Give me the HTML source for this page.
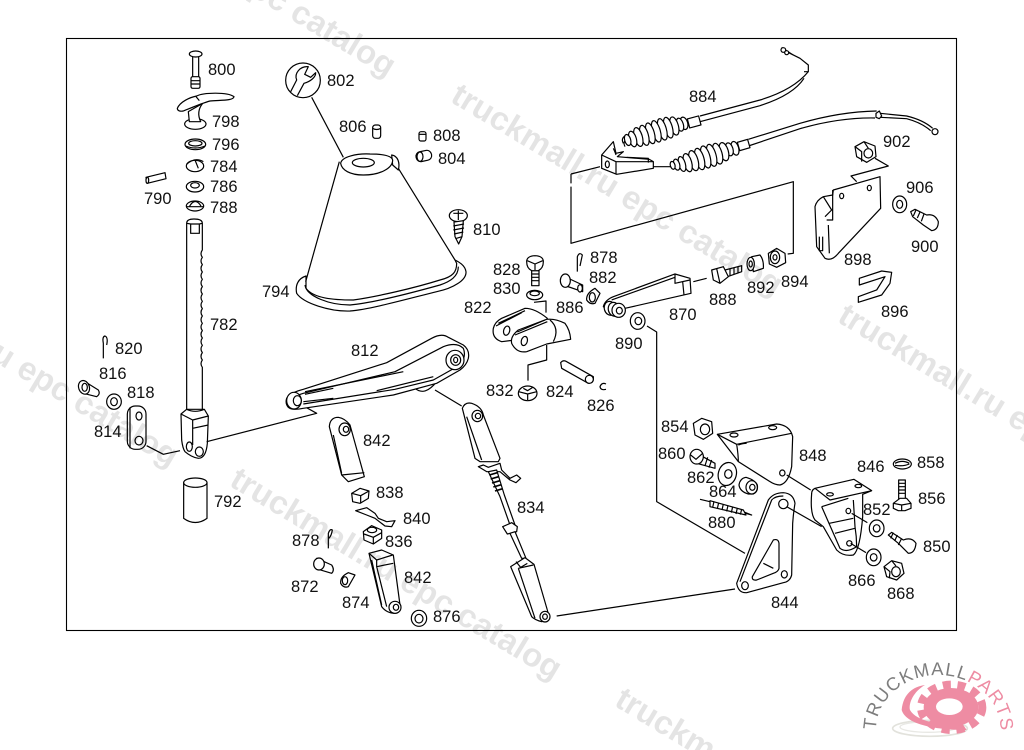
<!DOCTYPE html>
<html><head><meta charset="utf-8"><style>
html,body{margin:0;padding:0;background:#fff;width:1024px;height:750px;overflow:hidden}
#w{position:relative;width:1024px;height:750px;overflow:hidden}
svg{display:block}
.d{fill:#fff;stroke:#000;stroke-width:3.6;stroke-linejoin:round}
.d .n,.n{fill:none}
.t text{font-family:"Liberation Sans",sans-serif;font-size:16.5px;fill:#111}
.w text{font-family:"Liberation Sans",sans-serif;font-weight:bold;font-size:33px;fill:#000;opacity:.1}
</style></head><body><div id="w">
<svg width="1024" height="750" viewBox="0 0 1024 750" xmlns="http://www.w3.org/2000/svg">
<rect x="66.5" y="38.5" width="890" height="592" fill="#fff" stroke="#000" stroke-width="1.1"/>

<!-- zoom1 -->
<g class="d" transform="translate(70,40) scale(.33333)">
<ellipse cx="377" cy="42" rx="19" ry="9"/><path d="M368,50V110M386,50V110"/><rect x="363" y="110" width="27" height="35" rx="5"/><path class="n" d="M363,122H390M363,132H390"/>
<ellipse cx="376" cy="252" rx="32" ry="16"/><path d="M355,215L358,245H392Q378,215 398,190Z"/>
<path d="M322,205C330,185 360,172 380,168C400,158 470,155 492,170C490,183 450,180 420,183C395,190 360,205 340,213C330,215 322,212 322,205Z"/><path class="n" d="M378,170L388,182"/>
<ellipse cx="376" cy="313" rx="31" ry="16"/><ellipse cx="376" cy="310" rx="20" ry="8"/><path class="n" d="M347,318Q376,330 405,318"/>
<ellipse cx="375" cy="378" rx="26" ry="17"/><path class="n" d="M350,373Q375,350 400,365M375,360L385,385"/>
<ellipse cx="375" cy="440" rx="26" ry="16"/><ellipse cx="375" cy="436" rx="13" ry="8"/>
<ellipse cx="375" cy="498" rx="26" ry="15"/><path class="n" d="M358,500Q375,470 393,498M350,500H400"/>
<path d="M228,412L285,398L288,416L232,430Z"/><ellipse cx="232" cy="421" rx="4" ry="9"/>
<path d="M350,1110V550Q350,537 372,537Q397,537 397,550V630q-8,11 0,22q-8,11 0,22q-8,11 0,22q-8,11 0,22q-8,11 0,22q-8,11 0,22q-8,11 0,22q-8,11 0,22q-8,11 0,22q-8,11 0,22q-8,11 0,22q-8,11 0,22q-8,11 0,22q-8,11 0,22q-8,11 0,22q-8,11 0,22V1110Z"/>
<path class="n" d="M350,550L362,552H388L397,550M362,552V580H388V552"/>
<!-- boot -->
<path d="M707,730L808,365L985,385L1155,660Z" stroke="none"/>
<path d="M708,708C685,715 675,735 680,760C700,790 780,815 840,813C900,808 1000,780 1100,755C1150,745 1190,720 1188,695C1185,675 1165,665 1155,660L1160,670C1160,695 1150,710 1110,720C1030,745 920,770 850,780C790,780 730,775 708,745Z"/>
<path class="n" d="M705,735C710,770 780,795 840,795C900,790 1020,760 1110,735C1140,725 1165,710 1165,680"/>
<path class="n" d="M707,725L808,365M985,385L1155,660"/>
<path d="M965,345C985,348 990,370 985,390L968,375Z"/>
<path d="M812,370C815,350 860,340 900,342C940,342 965,348 968,360C968,385 930,405 880,405C840,405 815,390 812,370Z"/><ellipse cx="880" cy="368" rx="33" ry="13"/>
<circle cx="699" cy="121" r="52"/>
<path d="M682,167L702,130C720,125 738,112 737,98L722,112L704,103L715,80C690,78 672,100 680,120L662,155" fill="none"/>
<path class="n" d="M725,172L820,352"/>
<rect x="908" y="255" width="24" height="40" rx="8"/><path class="n" d="M908,265Q920,272 932,265"/>
<rect x="1047" y="275" width="21" height="28" rx="6"/><path class="n" d="M1047,283H1068"/>
<rect x="1038" y="333" width="47" height="30" rx="14" transform="rotate(-12 1061 348)"/><ellipse cx="1050" cy="350" rx="9" ry="14"/>
<ellipse cx="1165" cy="527" rx="27" ry="18"/><path class="n" d="M1150,520H1180M1165,512V540"/><path d="M1152,546L1180,542L1176,590L1166,612L1155,590Z"/><path class="n" d="M1150,558L1182,552M1150,570L1182,564M1152,582L1180,576M1156,596L1176,590"/>
</g>

<!-- zoom3 -->
<g class="d" transform="translate(70,330) scale(.33333)">
<path class="n" d="M100,85V40Q96,20 105,18Q115,22 110,45"/>
<path d="M40,152L85,180Q92,192 80,200L40,190Z"/><ellipse cx="42" cy="172" rx="16" ry="21" transform="rotate(-20 42 172)"/><ellipse cx="44" cy="172" rx="8" ry="12"/>
<ellipse cx="132" cy="215" rx="22" ry="23"/><ellipse cx="132" cy="215" rx="10" ry="12"/>
<rect x="172" y="228" width="56" height="130" rx="24"/><path class="n" d="M180,232V355"/><ellipse cx="207" cy="258" rx="9" ry="12"/><ellipse cx="207" cy="332" rx="12" ry="13"/>
<path class="n" d="M230,347L280,373L330,362"/>
<path d="M333,252L350,238H403L415,258L412,340Q408,385 385,385Q365,382 345,365Q338,355 335,330Z"/>
<path class="n" d="M333,252L368,270L415,258M368,270V345M368,295L415,285M350,238Q375,250 403,238"/><ellipse cx="358" cy="350" rx="9" ry="14"/><ellipse cx="388" cy="365" rx="12" ry="14"/>
<path class="n" d="M410,335L740,250L690,222"/>
<path d="M341,458V565Q376,590 411,565V458Z"/><ellipse cx="376" cy="458" rx="35" ry="14"/>
<path d="M1035,175Q1065,200 1100,155Z"/>
<path d="M650,205C660,190 680,183 700,178L950,98L1085,25Q1115,8 1135,22L1180,45Q1200,60 1195,85Q1190,105 1170,120L1100,160L970,195L700,235Q665,242 655,232Q645,220 650,205Z"/>
<path class="n" d="M670,208Q680,195 700,190L975,125L1120,50Q1160,35 1180,55Q1190,80 1170,105L1090,150L975,178L700,222"/>
<path class="n" d="M705,185L1000,125M705,193L790,175M700,215L790,205M920,182L1090,140"/>
<ellipse cx="672" cy="212" rx="22" ry="25"/><ellipse cx="682" cy="212" rx="12" ry="15"/>
<ellipse cx="1155" cy="90" rx="27" ry="29"/><ellipse cx="1157" cy="90" rx="15" ry="16"/><ellipse cx="1157" cy="90" rx="6" ry="8"/>
<path class="n" d="M1095,180L1175,228"/>
<path d="M778,290Q780,262 805,262Q825,265 840,285L883,440L835,455L815,435Z"/><path class="n" d="M790,315L815,430M815,435L883,428"/><ellipse cx="824" cy="298" rx="17" ry="19"/><ellipse cx="828" cy="298" rx="8" ry="9"/>
<path d="M845,490L870,475L897,483L895,505L870,520L848,515Z"/><path class="n" d="M845,490L872,497L897,483M872,497V520"/>
<path d="M857,542L890,533L915,550L925,565L950,575L975,572L965,590L945,588L915,565L890,555Z"/>
<path d="M880,605L905,587L935,600L935,625L910,642L882,630Z"/><ellipse cx="906" cy="600" rx="14" ry="8"/><path class="n" d="M882,612L910,622L935,608M910,622V642"/>
<path class="n" d="M775,655V610Q780,595 787,600Q785,615 777,625"/>
<path d="M897,670L935,660L970,675L990,825Q995,845 975,850Q950,850 935,830Z"/><path class="n" d="M897,670L920,690L968,675M920,690V710L970,700M905,690L935,825M920,710L950,830"/><ellipse cx="975" cy="832" rx="18" ry="18"/><ellipse cx="978" cy="832" rx="8" ry="9"/>
<path d="M740,685L785,705Q795,720 785,730L745,718Z"/><ellipse cx="747" cy="702" rx="16" ry="18"/>
<path d="M855,735L835,728Q810,740 812,760Q820,775 835,770Z"/><ellipse cx="825" cy="752" rx="8" ry="12"/>
<ellipse cx="1047" cy="865" rx="23" ry="24"/><ellipse cx="1047" cy="866" rx="12" ry="13"/>
<path d="M1177,235Q1185,215 1205,220Q1235,230 1240,255L1290,385L1285,395H1230L1215,385Z"/><path class="n" d="M1190,260L1235,390"/><ellipse cx="1222" cy="258" rx="16" ry="17"/><ellipse cx="1224" cy="258" rx="8" ry="8"/>
<path d="M1225,410L1240,405L1255,412L1290,400L1295,420L1320,445L1340,435L1352,445L1338,458L1320,450L1290,425L1250,425Z"/>
<path d="M1255,425L1290,500L1320,585H1335L1303,495L1280,420Z"/>
<path class="n" d="M1258,435L1282,428M1262,447L1286,440M1266,459L1290,452M1270,471L1294,464M1275,483L1298,476" stroke-width="5"/>
<path d="M1298,590L1325,578L1342,590L1340,605L1312,612Z"/>
<path d="M1320,610L1355,685H1368L1335,605Z"/>
<path d="M1322,710L1365,683L1392,703L1432,840Q1440,865 1415,875Q1395,870 1385,860Z"/><path class="n" d="M1345,715L1390,705M1345,715L1395,865M1338,695L1352,712L1372,700"/><ellipse cx="1425" cy="860" rx="15" ry="16"/><ellipse cx="1425" cy="860" rx="7" ry="8"/>
<path class="n" d="M1460,858L1995,777"/>
</g>

<!-- zoom6 -->
<g class="d" transform="translate(460,240) scale(.33333)">
<path d="M215,92H237V137H215Z"/><path class="n" d="M215,102H237M215,112H237M215,122H237"/>
<path d="M200,65Q200,48 225,47Q250,48 250,65Q250,85 235,92H215Q200,85 200,65Z"/><path class="n" d="M202,62L225,72L248,62M225,72V90"/>
<ellipse cx="224" cy="165" rx="24" ry="14"/><ellipse cx="224" cy="160" rx="14" ry="7"/>
<path class="n" d="M222,187L258,183V218"/>
<path d="M100,265Q105,245 125,235L195,205Q225,205 262,235L240,290L125,305Q95,295 100,265Z"/>
<path class="n" d="M108,258L185,218M115,250L195,212"/><ellipse cx="140" cy="272" rx="9" ry="14" transform="rotate(15 140 272)"/>
<path d="M155,310Q150,290 175,270L260,238Q285,235 315,250Q330,270 332,298L260,312L200,335Q170,340 155,310Z"/>
<path class="n" d="M165,285L262,245M172,276L255,240M270,240Q300,265 280,305"/><ellipse cx="193" cy="303" rx="9" ry="14" transform="rotate(15 193 303)"/>
<path class="n" d="M260,315V360L204,375V422"/>
<ellipse cx="203" cy="460" rx="28" ry="22"/><path class="n" d="M176,455L203,462L230,455M203,462V480M190,445L203,452L218,442"/>
<path d="M302,368Q310,358 320,365L400,410Q402,430 385,430L305,385Z"/><ellipse cx="388" cy="418" rx="12" ry="12"/>
<path class="n" d="M438,432Q425,426 420,440Q422,452 438,448"/>
<path d="M310,108L368,135V155L310,135Z"/><ellipse cx="316" cy="122" rx="15" ry="20"/><ellipse cx="360" cy="145" rx="7" ry="11"/>
<path class="n" d="M352,95V50Q358,35 367,45L360,78"/>
<path d="M420,160L405,145Q378,160 380,180Q390,195 405,190Z"/><ellipse cx="397" cy="172" rx="9" ry="14"/>
<ellipse cx="533" cy="243" rx="22" ry="25"/><ellipse cx="535" cy="243" rx="10" ry="11"/>
</g>

<!-- zoom2 -->
<g class="d" transform="translate(560,40) scale(.33333)">
<!-- cables -->
<path class="n" d="M420,228L600,180Q700,150 745,95V75L720,55L680,35M420,245L600,197Q700,165 732,115M732,95L745,95"/>
<path class="n" d="M665,22L700,45" stroke-width="3"/><circle cx="670" cy="30" r="7" fill="#fff"/><circle cx="680" cy="38" r="6" fill="#fff"/>
<path class="n" d="M565,298L720,250Q840,215 950,213M565,318L720,266Q840,232 945,234"/>
<path class="n" d="M960,220L1040,228Q1090,240 1118,265M960,232L1040,236Q1085,248 1112,272"/><path d="M948,220L958,213L965,228L958,236L948,232Z"/><circle cx="1125" cy="275" r="9"/>
<rect x="385" y="232" width="35" height="28" transform="rotate(-15 402 246)"/>
<path class="n" d="M190,310Q180,290 205,285M195,320Q185,300 210,298"/>
<ellipse cx="372" cy="250" rx="11" ry="19" transform="rotate(-16 372 250)"/><ellipse cx="360" cy="254" rx="10" ry="20" transform="rotate(-16 360 254)"/>
<ellipse cx="343" cy="258" rx="12" ry="28" transform="rotate(-16 343 258)"/><ellipse cx="325" cy="263" rx="12" ry="32" transform="rotate(-16 325 263)"/><ellipse cx="307" cy="268" rx="12" ry="33" transform="rotate(-16 307 268)"/><ellipse cx="289" cy="274" rx="12" ry="33" transform="rotate(-16 289 274)"/><ellipse cx="271" cy="280" rx="12" ry="32" transform="rotate(-16 271 280)"/><ellipse cx="253" cy="286" rx="12" ry="31" transform="rotate(-16 253 286)"/><ellipse cx="235" cy="291" rx="12" ry="29" transform="rotate(-16 235 291)"/><ellipse cx="218" cy="297" rx="11" ry="24" transform="rotate(-16 218 297)"/><ellipse cx="203" cy="300" rx="9" ry="17" transform="rotate(-16 203 300)"/>
<!-- bracket -->
<path d="M125,345L160,305L168,340L190,335L172,350L268,358L280,365V385L170,403L125,385Z"/>
<path class="n" d="M125,345L168,365V403M168,365L280,365M200,352L265,355V368M160,325Q165,335 168,345"/><ellipse cx="142" cy="373" rx="6" ry="10"/>
<path class="n" d="M280,380H332"/>
<rect x="535" y="302" width="32" height="26" transform="rotate(-16 551 315)"/>
<ellipse cx="525" cy="325" rx="11" ry="21" transform="rotate(-16 525 325)"/><ellipse cx="508" cy="328" rx="11" ry="20" transform="rotate(-16 508 328)"/>
<ellipse cx="492" cy="335" rx="13" ry="28" transform="rotate(-16 492 335)"/><ellipse cx="473" cy="341" rx="13" ry="32" transform="rotate(-16 473 341)"/><ellipse cx="455" cy="346" rx="13" ry="34" transform="rotate(-16 455 346)"/><ellipse cx="437" cy="351" rx="13" ry="34" transform="rotate(-16 437 351)"/><ellipse cx="419" cy="357" rx="13" ry="33" transform="rotate(-16 419 357)"/><ellipse cx="401" cy="362" rx="13" ry="31" transform="rotate(-16 401 362)"/><ellipse cx="383" cy="368" rx="12" ry="28" transform="rotate(-16 383 368)"/><ellipse cx="366" cy="372" rx="10" ry="23" transform="rotate(-16 366 372)"/><ellipse cx="350" cy="374" rx="9" ry="17" transform="rotate(-16 350 374)"/><ellipse cx="338" cy="376" rx="7" ry="12" transform="rotate(-16 338 376)"/>
<!-- big bracket leader -->
<path class="n" d="M33,402L120,380M33,402V430M33,440V610L700,425V640L683,642"/>
<!-- 870 -->
<path d="M130,800Q135,780 160,770L345,702L390,715L393,760L195,805L160,825Z"/>
<path class="n" d="M345,702V730L390,720M368,725L372,765M155,780L345,712"/><ellipse cx="150" cy="805" rx="17" ry="21" transform="rotate(-15 150 805)"/><ellipse cx="162" cy="808" rx="17" ry="21" transform="rotate(-15 162 808)"/><ellipse cx="176" cy="811" rx="20" ry="21"/><ellipse cx="178" cy="812" rx="9" ry="10"/>
<path class="n" d="M400,725L440,715"/>
<path d="M495,690L545,677V695L497,712Z"/><path class="n" d="M510,686V706M522,683V702M534,680V698"/>
<path d="M455,690L490,680L505,710L480,730L460,720Z"/><path class="n" d="M470,686L480,730"/>
<path d="M575,650L600,645Q612,660 610,685L580,695Z"/><ellipse cx="572" cy="672" rx="11" ry="20"/><ellipse cx="572" cy="672" rx="5" ry="9"/>
<path d="M625,640L650,625L675,640L677,668L650,682L628,672Z"/><ellipse cx="645" cy="652" rx="14" ry="19"/><ellipse cx="645" cy="652" rx="6" ry="8"/>
<!-- 902 -->
<path d="M885,320L912,305L945,318L948,350L920,367L890,350Z"/><ellipse cx="925" cy="340" rx="13" ry="14"/><path class="n" d="M885,320L905,335L905,365M912,305L925,325"/>
<path class="n" d="M945,355L985,378L873,408L890,425"/>
<path d="M820,450L960,410L962,505L835,640Q815,665 795,655L770,620L765,500Q770,480 790,470L818,465Z"/>
<path class="n" d="M818,450L818,540H800M790,470L815,510L795,530M805,555L808,640M778,590V632H788V590"/><ellipse cx="845" cy="468" rx="6" ry="8"/><ellipse cx="928" cy="444" rx="6" ry="8"/>
<ellipse cx="1019" cy="493" rx="21" ry="25"/><ellipse cx="1019" cy="493" rx="9" ry="12"/>
<path d="M1052,515L1065,508L1100,525Q1125,520 1135,545Q1135,570 1115,572L1090,555L1058,530Z"/><path class="n" d="M1068,510L1060,528M1080,516L1072,534M1092,522L1084,544"/>
<path d="M898,715L965,693L995,697L990,730L965,765L895,787V770L950,750L975,710L898,735Z"/>
</g>

<!-- zoom4 -->
<g class="d" transform="translate(640,400) scale(.33333)">
<path class="n" d="M21,-222L50,-204V305L315,460"/>
<path d="M160,70L185,55L215,65L218,100L190,118L165,105Z"/><ellipse cx="195" cy="88" rx="14" ry="16"/>
<path d="M170,160L225,190V205L170,190Z"/><path class="n" d="M190,165L182,190M203,172L195,197M215,180L207,203"/><ellipse cx="170" cy="170" rx="20" ry="22"/><path class="n" d="M152,165L168,178L188,160"/>
<ellipse cx="262" cy="222" rx="27" ry="35" transform="rotate(15 262 222)"/><ellipse cx="265" cy="222" rx="11" ry="13"/>
<path d="M318,232Q300,235 297,255Q300,275 325,282H340Q355,275 352,255Q345,240 318,232Z"/><ellipse cx="335" cy="262" rx="17" ry="20"/><ellipse cx="337" cy="262" rx="8" ry="9"/>
<path class="n" d="M180,298L210,305M310,335L335,345L300,335"/>
<path d="M210,302L310,330L318,345L210,320Z"/><path class="n" d="M222,304L218,322M236,308L232,326M250,312L246,330M264,316L260,334M278,320L274,338M292,324L288,342M305,328L301,344"/>
<path d="M232,103L410,72Q450,75 458,110L455,200Q445,250 420,255Q405,255 390,245L295,185Z"/>
<path class="n" d="M232,103L290,133L455,100M290,133Q295,165 295,185M295,135Q310,130 320,130"/>
<ellipse cx="282" cy="105" rx="12" ry="6"/><ellipse cx="398" cy="83" rx="12" ry="6"/><ellipse cx="427" cy="219" rx="8" ry="9"/>
<path class="n" d="M440,225L512,270"/>
<path d="M290,550L385,300Q400,278 430,278Q460,280 465,310Q460,340 458,370L455,525Q450,545 430,548L320,578Q295,580 290,550Z"/>
<path class="n" d="M300,545L395,300Q405,288 430,288"/>
<path d="M337,530L400,420Q415,415 417,430V505Q415,515 400,520L350,540Q335,542 337,530Z"/><path class="n" d="M370,490L400,505"/>
<ellipse cx="315" cy="557" rx="10" ry="12"/><ellipse cx="433" cy="523" rx="9" ry="11"/><ellipse cx="430" cy="312" rx="14" ry="14"/>
<path d="M440,320L545,380" class="n"/>
<path d="M515,280Q510,340 525,360L550,380L590,450Q610,470 640,465Q660,450 668,350V283L695,272L642,238L525,265Q515,270 515,280Z"/>
<path class="n" d="M525,265L570,300L695,272M545,320L625,295M545,320L600,445Q620,460 650,440M568,370L640,355M585,400L645,385M640,300L645,380Q650,410 650,440"/>
<ellipse cx="570" cy="283" rx="10" ry="5"/><ellipse cx="655" cy="258" rx="10" ry="5"/><ellipse cx="625" cy="333" rx="7" ry="8"/><ellipse cx="628" cy="430" rx="8" ry="8"/>
<path class="n" d="M635,340L682,368M632,430L678,458"/>
<ellipse cx="787" cy="192" rx="27" ry="15"/><path class="n" d="M765,190Q787,178 808,190M765,196Q790,200 808,192"/>
<rect x="776" y="240" width="20" height="60"/><path class="n" d="M776,250H796M776,260H796M776,270H796M776,280H796"/>
<path d="M760,310L780,295H800L813,310V325L795,332H775L760,325Z"/><path class="n" d="M760,310L785,315L813,310M785,315V332"/>
<ellipse cx="710" cy="385" rx="22" ry="25"/><ellipse cx="710" cy="385" rx="10" ry="11"/>
<ellipse cx="701" cy="472" rx="22" ry="25"/><ellipse cx="701" cy="472" rx="10" ry="11"/>
<path d="M745,405L755,397L790,420Q815,410 828,430Q825,460 805,460L775,430Z"/><path class="n" d="M760,398L752,415M772,405L764,423M785,415L775,435"/>
<path d="M732,500L755,482L785,490L792,520L770,540L740,530Z"/><ellipse cx="768" cy="515" rx="13" ry="15"/><path class="n" d="M732,500L750,515L748,535M755,482L768,498"/>
</g>

<g class="t">
<text x="208" y="75">800</text><text x="327" y="86">802</text><text x="212" y="127">798</text><text x="212" y="150">796</text><text x="210" y="172">784</text><text x="210" y="192">786</text><text x="210" y="213">788</text><text x="144" y="204">790</text><text x="339" y="132">806</text><text x="433" y="141">808</text><text x="438" y="164">804</text><text x="473" y="235">810</text><text x="262" y="297">794</text><text x="210" y="330">782</text>
<text x="115" y="354">820</text><text x="99" y="379">816</text><text x="127" y="398">818</text><text x="94" y="437">814</text><text x="214" y="507">792</text><text x="351" y="356">812</text><text x="363" y="446">842</text><text x="376" y="498">838</text><text x="403" y="524">840</text><text x="385" y="547">836</text><text x="292" y="546">878</text><text x="404" y="583">842</text><text x="291" y="592">872</text><text x="342" y="608">874</text><text x="433" y="622">876</text><text x="517" y="513">834</text>
<text x="590" y="263">878</text><text x="493" y="275">828</text><text x="589" y="283">882</text><text x="493" y="294">830</text><text x="464" y="313">822</text><text x="556" y="313">886</text><text x="669" y="320">870</text><text x="615" y="349">890</text><text x="486" y="396">832</text><text x="546" y="397">824</text><text x="587" y="411">826</text>
<text x="689" y="102">884</text><text x="883" y="147">902</text><text x="906" y="193">906</text><text x="911" y="252">900</text><text x="844" y="265">898</text><text x="881" y="317">896</text><text x="709" y="305">888</text><text x="747" y="293">892</text><text x="781" y="287">894</text>
<text x="661" y="432">854</text><text x="658" y="459">860</text><text x="687" y="483">862</text><text x="709" y="497">864</text><text x="708" y="528">880</text><text x="799" y="461">848</text><text x="857" y="472">846</text><text x="917" y="468">858</text><text x="918" y="504">856</text><text x="863" y="515">852</text><text x="923" y="552">850</text><text x="848" y="586">866</text><text x="887" y="599">868</text><text x="771" y="608">844</text>
</g>

<!-- logo -->
<g transform="translate(850,650) scale(.33333)">
<ellipse cx="240" cy="235" rx="112" ry="24" fill="none" stroke="#e2e2dc" stroke-width="5"/>
<ellipse cx="235" cy="231" rx="85" ry="16" fill="none" stroke="#e8e8e4" stroke-width="4"/>
<path d="M155,180C160,130 190,110 225,105C190,125 175,160 180,180C200,215 270,225 340,225L350,240C280,240 170,230 155,180Z" fill="#ee8ca3"/>
<ellipse cx="305" cy="172" rx="92" ry="68" fill="none" stroke="#ee8ca3" stroke-width="24" stroke-dasharray="24 20"/>
<ellipse cx="303" cy="172" rx="82" ry="58" fill="#ee8ca3"/>
<ellipse cx="298" cy="170" rx="40" ry="25" fill="#fff"/>
<defs><path id="arc" d="M78,240A187,165 0 0 1 452,240"/></defs>
<text font-family="'Liberation Sans',sans-serif" font-size="55" fill="#7d7d7d"><textPath href="#arc" textLength="555" lengthAdjust="spacing">TRUCKMALL<tspan fill="#ee8ca3">PARTS</tspan></textPath></text>
</g>

<!-- watermarks -->
<g class="w">
<text transform="translate(62,-118) rotate(31)">truckmall.ru epc catalog</text>
<text transform="translate(-155,272) rotate(31)">truckmall.ru epc catalog</text>
<text transform="translate(228,485) rotate(31)">truckmall.ru epc catalog</text>
<text transform="translate(449,101) rotate(31)">truckmall.ru epc catalog</text>
<text transform="translate(836,321) rotate(31)">truckmall.ru epc catalog</text>
<text transform="translate(613,705) rotate(31)">truckm</text>
</g>
</svg>
</div></body></html>
